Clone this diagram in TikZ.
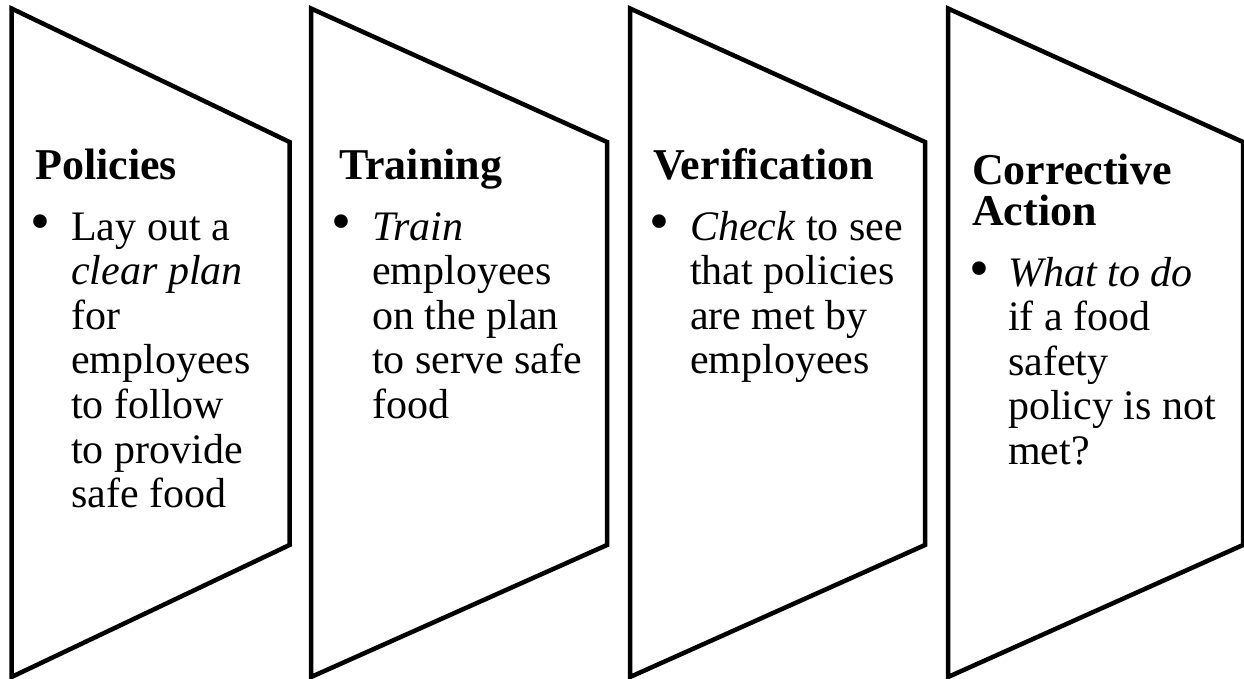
\documentclass[tikz,border=0pt]{standalone}
\usepackage{fontspec}
\setmainfont{Liberation Serif}
\newcommand{\headfont}{\fontsize{44}{41}\selectfont\bfseries}
\newcommand{\bodyfont}{\fontsize{42}{44.6}\selectfont}
\newcommand{\dotfont}{\fontsize{57}{57}\selectfont}
\begin{document}
\begin{tikzpicture}[x=1pt,y=-1pt,
  panel/.style={draw=black,line width=4.5pt,line join=miter,fill=white},
  head/.style={anchor=base west,inner sep=0pt,font=\headfont,align=left},
  dot/.style={anchor=center,inner sep=0pt,font=\dotfont},
  body/.style={anchor=base west,inner sep=0pt,font=\bodyfont}]
\useasboundingbox (0,0) rectangle (1244,679);

% four trapezoid panels
\draw[panel] (11.5,8.5) -- (289.5,142) -- (289.5,545) -- (11.5,677) -- cycle;
\draw[panel] (311,8.5) -- (607,142) -- (607,545) -- (311,677) -- cycle;
\draw[panel] (630,8.5) -- (925,142) -- (925,545) -- (630,677) -- cycle;
\draw[panel] (948,8.5) -- (1243,142) -- (1243,545) -- (948,677) -- cycle;

% Policies
\node[head] (h1) at (35,179) {Policies};
\node[dot] (d1) at (40.5,228) {•};
\node[body] (b1) at (71,240) {\parbox[t]{220pt}{\bodyfont Lay out a\\ \textit{clear plan}\\ for\\ employees\\ to follow\\ to provide\\ safe food}};

% Training
\node[head] (h2) at (339,179) {Training};
\node[dot] (d2) at (341,228) {•};
\node[body] (b2) at (372,240) {\parbox[t]{230pt}{\bodyfont \textit{Train}\\ employees\\ on the plan\\ to serve safe\\ food}};

% Verification
\node[head] (h3) at (653,179) {Verification};
\node[dot] (d3) at (659,228) {•};
\node[body] (b3) at (690,240) {\parbox[t]{230pt}{\bodyfont \textit{Check} to see\\ that policies\\ are met by\\ employees}};

% Corrective Action
\node[head] (h4) at (972,185) {\parbox[t]{260pt}{\headfont Corrective\\ Action}};
\node[dot] (d4) at (979,275) {•};
\node[body] (b4) at (1008,286) {\parbox[t]{230pt}{\bodyfont \textit{What to do}\\ if a food\\ safety\\ policy is not\\ met?}};
\end{tikzpicture}
\end{document}
